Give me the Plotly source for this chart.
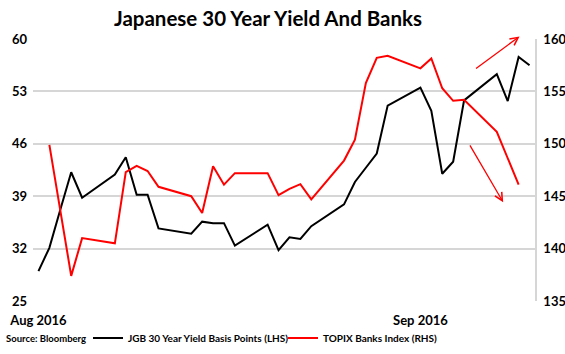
import plotly.graph_objects as go

dates = [
    "2016-08-01", "2016-08-02", "2016-08-03", "2016-08-04", "2016-08-05",
    "2016-08-08", "2016-08-09", "2016-08-10", "2016-08-11", "2016-08-12",
    "2016-08-15", "2016-08-16", "2016-08-17", "2016-08-18", "2016-08-19",
    "2016-08-22", "2016-08-23", "2016-08-24", "2016-08-25", "2016-08-26",
    "2016-08-29", "2016-08-30", "2016-08-31", "2016-09-01", "2016-09-02",
    "2016-09-05", "2016-09-06", "2016-09-07", "2016-09-08", "2016-09-09",
    "2016-09-12", "2016-09-13", "2016-09-14", "2016-09-15",
]

jgb_30y_bp = [
    29.0, 32.1, 37.2, 42.2, 38.8,
    41.9, 44.2, 39.2, 39.2, 34.7,
    34.0, 35.6, 35.4, 35.4, 32.4,
    35.2, 31.8, 33.5, 33.3, 35.0,
    37.9, 40.9, 42.8, 44.7, 51.1,
    53.5, 50.4, 42.0, 43.6, 51.8,
    55.3, 51.7, 57.6, 56.5,
]

topix_banks = [
    None, 149.9, 143.6, 137.4, 141.0,
    140.5, 147.3, 147.9, 147.4, 145.9,
    145.0, 143.4, 147.85, 146.1, 147.2,
    147.2, 145.1, 145.7, 146.15, 144.7,
    148.4, 150.4, 155.8, 158.2, 158.4,
    157.2, 158.15, 155.3, 154.1, 154.2,
    151.15, 148.6, 146.1, None,
]

left_ticks = [25, 32, 39, 46, 53, 60]
right_ticks = [135, 140, 145, 150, 155, 160]
x_tick_vals = ["2016-08-01", "2016-09-05"]
x_tick_text = ["Aug 2016", "Sep 2016"]

# trend arrows (tail -> head), in data coordinates of the left axis
arrows = [
    (("2016-09-09 23:00", 55.9), ("2016-09-14 02:00", 60.35)),
    (("2016-09-09 11:00", 46.0), ("2016-09-12 14:00", 38.2)),
]

FONT = "Lato"
GRID = "#d6d6d6"

# plot-area geometry in pixels
W, H = 565, 354
L, R, T, B = 33, 30, 39, 53
PW, PH = W - L - R, H - T - B

fig = go.Figure()
fig.add_trace(go.Scatter(
    x=dates, y=jgb_30y_bp, mode="lines", name="<b>JGB 30 Year Yield Basis Points (LHS)</b>",
    line=dict(color="#000000", width=2), yaxis="y",
))
fig.add_trace(go.Scatter(
    x=dates, y=topix_banks, mode="lines", name="<b>TOPIX Banks Index (RHS)</b>",
    line=dict(color="#ff0000", width=2), yaxis="y2", connectgaps=False,
))

annotations = []
for (tx, ty), (hx, hy) in arrows:
    annotations.append(dict(
        x=hx, y=hy, ax=tx, ay=ty, xref="x", yref="y", axref="x", ayref="y",
        showarrow=True, arrowhead=5, arrowsize=1.2, arrowwidth=1.3,
        arrowcolor="#ff0000", text="", standoff=0, startstandoff=0,
    ))
annotations.append(dict(
    text="<b>Source: Bloomberg</b>", x=(4 - L) / PW, y=-(338 - (T + PH)) / PH,
    xref="paper", yref="paper", xanchor="left", yanchor="middle", showarrow=False,
    font=dict(family=FONT, size=9.5, color="#000000"),
))

fig.update_layout(
    width=W, height=H,
    margin=dict(l=L, r=R, t=T, b=B, autoexpand=False),
    paper_bgcolor="#ffffff", plot_bgcolor="#ffffff",
    font=dict(family=FONT, color="#000000"),
    title=dict(text="<b>Japanese 30 Year Yield And Banks</b>",
               x=268 / W, xanchor="center", y=1 - 19 / H, yanchor="middle",
               font=dict(family=FONT, size=20.5, color="#000000")),
    showlegend=True,
    legend=dict(orientation="h", x=(88 - L) / PW, xanchor="left",
                y=-(338 - (T + PH)) / PH, yanchor="middle",
                font=dict(family=FONT, size=10, color="#000000"),
                itemwidth=30, entrywidth=150, entrywidthmode="pixels",
                bgcolor="rgba(0,0,0,0)", tracegroupgap=0),
    xaxis=dict(type="date", range=["2016-07-31 12:00", "2016-09-15 12:00"],
               tickvals=x_tick_vals, ticktext=["<b>%s</b>" % t for t in x_tick_text],
               showgrid=False, zeroline=False, showline=False, ticks="",
               automargin=False, ticklabelstandoff=10,
               tickfont=dict(family=FONT, size=13)),
    yaxis=dict(range=[25, 60], tickvals=left_ticks,
               ticktext=["<b>%d</b>" % v for v in left_ticks],
               showgrid=True, gridcolor=GRID, gridwidth=1.5, zeroline=False,
               showline=False, ticks="", ticklabelstandoff=5, automargin=False,
               tickfont=dict(family=FONT, size=13)),
    yaxis2=dict(range=[135, 160], tickvals=right_ticks,
                ticktext=["<b>%d</b>" % v for v in right_ticks],
                overlaying="y", side="right", showgrid=False, zeroline=False,
                showline=True, linecolor=GRID, linewidth=1.5, ticks="",
                ticklabelstandoff=4, automargin=False,
                tickfont=dict(family=FONT, size=13)),
    annotations=annotations,
)

fig.write_html("out.html")
